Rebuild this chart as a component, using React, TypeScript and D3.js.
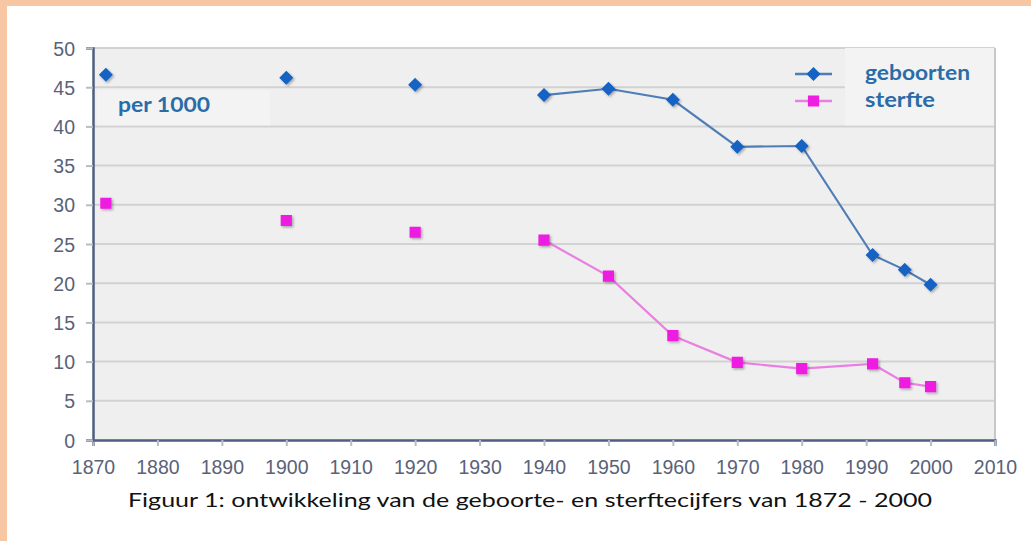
import React, { useEffect, useRef } from 'react';
import * as d3 from 'd3';

// jaartallen en cijfers per 1000 inwoners
const years = [1872, 1900, 1920, 1940, 1950, 1960, 1970, 1980, 1991, 1996, 2000];
const geboorten = [46.6, 46.2, 45.3, 44.0, 44.8, 43.4, 37.4, 37.5, 23.6, 21.7, 19.8];
const sterfte = [30.2, 28.0, 26.5, 25.5, 20.9, 13.3, 9.9, 9.1, 9.7, 7.3, 6.8];
// alleen vanaf 1940 zijn de punten met een lijn verbonden
const linked = [false, false, false, true, true, true, true, true, true, true, true];

const xTicks = [1870, 1880, 1890, 1900, 1910, 1920, 1930, 1940, 1950, 1960, 1970, 1980, 1990, 2000, 2010];
const yTicks = [0, 5, 10, 15, 20, 25, 30, 35, 40, 45, 50];

const seriesNames = ['geboorten', 'sterfte'];
const caption = 'Figuur 1: ontwikkeling van de geboorte- en sterftecijfers van 1872 - 2000';

const W = 1031, H = 541;

export default function App() {
  const ref = useRef<SVGSVGElement>(null);

  useEffect(() => {
    const svg = d3.select(ref.current);
    svg.selectAll('*').remove();

    const margin = { top: 48, right: 36, bottom: 101, left: 93 };
    const width = W - margin.left - margin.right;
    const height = H - margin.top - margin.bottom;

    // peach frame
    svg.append('rect').attr('width', W).attr('height', H).attr('fill', '#f7c6a3');
    svg.append('rect').attr('x', 7).attr('y', 6).attr('width', W - 7).attr('height', H - 6).attr('fill', '#ffffff');

    const defs = svg.append('defs');
    const f = defs.append('filter').attr('id', 'sh').attr('x', '-50%').attr('y', '-50%').attr('width', '200%').attr('height', '200%');
    f.append('feDropShadow').attr('dx', 1.5).attr('dy', 1.5).attr('stdDeviation', 1).attr('flood-color', '#000').attr('flood-opacity', 0.3);

    const g = svg.append('g').attr('transform', `translate(${margin.left},${margin.top})`);

    const x = d3.scaleLinear().domain([1870, 2010]).range([0, width]);
    const y = d3.scaleLinear().domain([0, 50]).range([height, 0]);

    g.append('rect').attr('width', width).attr('height', height).attr('fill', '#efefef');

    g.append('g').selectAll('line').data(yTicks.filter(d => d > 0)).enter().append('line')
      .attr('x1', 0).attr('x2', width)
      .attr('y1', d => y(d)).attr('y2', d => y(d))
      .attr('stroke', '#d2d2d2').attr('stroke-width', 2);

    // lichtere vakken achter "per 1000" en legenda
    g.append('rect').attr('x', 4).attr('y', y(45) + 3).attr('width', 173).attr('height', y(40) - y(45) - 4)
      .attr('fill', '#f3f3f3');
    g.append('rect').attr('x', 752).attr('y', 0).attr('width', width - 752).attr('height', y(40) - 1)
      .attr('fill', '#f3f3f3');

    const labelFont = 'Lato, "Open Sans", sans-serif';
    g.append('text').attr('x', 25).attr('y', y(41.8))
      .attr('font-family', labelFont).attr('font-weight', 700)
      .attr('font-size', 20).attr('fill', '#2a6ca8')
      .attr('textLength', 92).attr('lengthAdjust', 'spacingAndGlyphs').text('per 1000');

    // right border
    g.append('line').attr('x1', width).attr('x2', width).attr('y1', 0).attr('y2', height)
      .attr('stroke', '#c8c8c8').attr('stroke-width', 2);

    const axisColor = '#4f5f80';
    const xAxis = d3.axisBottom(x).tickValues(xTicks).tickFormat(d3.format('d')).tickSize(6).tickPadding(14);
    const yAxis = d3.axisLeft(y).tickValues(yTicks).tickSize(7).tickPadding(11);

    const gx = g.append('g').attr('transform', `translate(0,${height})`).call(xAxis);
    const gy = g.append('g').call(yAxis);
    [gx, gy].forEach(a => {
      a.select('.domain').attr('stroke', axisColor).attr('stroke-width', 2.5);
      a.selectAll('.tick line').attr('stroke', '#b8bcc8').attr('stroke-width', 2);
      a.selectAll('.tick text').attr('font-family', '"Liberation Sans", Arial, sans-serif')
        .attr('font-size', 19.5).attr('fill', '#5a6278');
    });
    gy.selectAll('.tick text').attr('dy', '0.36em');

    const pts = years.map((yr, i) => ({ yr, b: geboorten[i], s: sterfte[i], on: linked[i] }));

    const lineB = d3.line<typeof pts[0]>().defined(d => d.on).x(d => x(d.yr)).y(d => y(d.b));
    const lineS = d3.line<typeof pts[0]>().defined(d => d.on).x(d => x(d.yr)).y(d => y(d.s));

    g.append('path').datum(pts).attr('d', lineB).attr('fill', 'none')
      .attr('stroke', '#4f7db5').attr('stroke-width', 2.2);
    g.append('path').datum(pts).attr('d', lineS).attr('fill', 'none')
      .attr('stroke', '#ea7fe2').attr('stroke-width', 2.2);

    const diamond = d3.symbol().type(d3.symbolDiamond2).size(90);
    const square = d3.symbol().type(d3.symbolSquare2).size(120);

    g.append('g').selectAll('path').data(pts).enter().append('path')
      .attr('d', square).attr('transform', d => `translate(${x(d.yr)},${y(d.s)})`)
      .attr('fill', '#ee1ee0').attr('stroke', '#ee1ee0').attr('stroke-width', 1.5).attr('filter', 'url(#sh)');
    g.append('g').selectAll('path').data(pts).enter().append('path')
      .attr('d', diamond).attr('transform', d => `translate(${x(d.yr)},${y(d.b)})`)
      .attr('fill', '#1463c4').attr('stroke', '#1463c4').attr('stroke-width', 1.5).attr('filter', 'url(#sh)');

    // legenda
    const colors = ['#4f7db5', '#ea7fe2'];
    const markColors = ['#1463c4', '#ee1ee0'];
    const textWidths = [105, 70];
    const leg = g.append('g').attr('transform', `translate(702,26)`);
    seriesNames.forEach((name, i) => {
      const ly = i * 27;
      leg.append('line').attr('x1', 0).attr('x2', 37).attr('y1', ly).attr('y2', ly)
        .attr('stroke', colors[i]).attr('stroke-width', 2.5);
      leg.append('path').attr('d', i === 0 ? diamond : square)
        .attr('transform', `translate(18.5,${ly})`)
        .attr('fill', markColors[i]).attr('stroke', markColors[i]).attr('stroke-width', 1.5);
      leg.append('text').attr('x', 70).attr('y', ly).attr('dy', '0.3em')
        .attr('font-family', labelFont).attr('font-weight', 700)
        .attr('font-size', 20).attr('fill', '#2a6ca8')
        .attr('textLength', textWidths[i]).attr('lengthAdjust', 'spacingAndGlyphs').text(name);
    });

    svg.append('text').attr('x', 530).attr('y', 507).attr('text-anchor', 'middle')
      .attr('font-family', labelFont).attr('font-size', 20)
      .attr('fill', '#111').attr('textLength', 804).attr('lengthAdjust', 'spacingAndGlyphs')
      .text(caption);
  }, []);

  return (
    <svg ref={ref} width={W} height={H}
      style={{ position: 'absolute', left: 0, top: 0, display: 'block' }} />
  );
}
